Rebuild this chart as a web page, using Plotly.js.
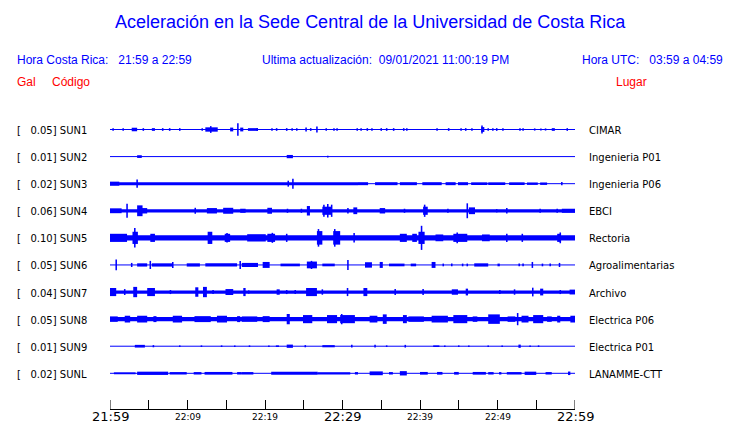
<!DOCTYPE html>
<html><head><meta charset="utf-8">
<script src="https://cdn.plot.ly/plotly-3.0.1.min.js"></script>
<style>html,body{margin:0;padding:0;background:#fff}#chart{width:740px;height:423px}</style>
</head><body><div id="chart"></div>
<script>
// ---------- DATA ----------
const stations = ["SUN1","SUN2","SUN3","SUN4","SUN5","SUN6","SUN7","SUN8","SUN9","SUNL"];
const places = ["CIMAR","Ingenieria P01","Ingenieria P06","EBCI","Rectoria","Agroalimentarias","Archivo","Electrica P06","Electrica P01","LANAMME-CTT"];
const galScale = ["0.05","0.01","0.02","0.06","0.10","0.05","0.04","0.05","0.01","0.02"];
const tickMinutes = [0,5,10,15,20,25,30,35,40,45,50,55,60];
const labelMinutes = [0,10,20,30,40,50,60];
const labelTexts = ["21:59","22:09","22:19","22:29","22:39","22:49","22:59"];
// bursts per station: [start minute, end minute, relative half-amplitude]
const evSUN1 = [[0.4,0.4,0.1],[1.7,1.7,0.1],[2.8,3.5,0.13],[4.3,4.3,0.1],[5.4,5.8,0.1],[6.8,6.8,0.1],[7.7,7.7,0.1],[9.0,9.0,0.1],[11.9,11.9,0.1],[12.3,13.9,0.16],[13.0,13.0,0.25],[15.5,15.9,0.14],[16.5,16.5,0.47],[16.8,17.2,0.14],[17.8,19.1,0.1],[19.0,19.0,0.1],[20.9,20.9,0.1],[21.5,21.5,0.1],[22.8,22.8,0.1],[23.5,23.5,0.1],[24.1,24.1,0.1],[25.3,25.3,0.15],[25.9,25.9,0.1],[26.7,26.7,0.22],[27.9,27.9,0.1],[28.9,28.9,0.1],[29.3,29.3,0.1],[31.9,31.9,0.1],[32.4,32.4,0.1],[33.2,33.2,0.1],[33.8,33.8,0.1],[35.0,35.0,0.1],[35.7,35.7,0.1],[36.6,36.6,0.1],[37.9,37.9,0.1],[38.3,38.3,0.1],[42.2,42.2,0.1],[43.7,43.7,0.1],[45.3,45.3,0.1],[45.9,45.9,0.1],[46.7,46.7,0.1],[47.9,48.3,0.18],[48.0,48.0,0.3],[48.8,48.8,0.1],[49.4,49.4,0.1],[49.9,49.9,0.1],[50.7,50.7,0.1],[52.9,52.9,0.1],[53.3,53.3,0.1],[54.8,54.8,0.08],[55.6,55.6,0.08],[56.2,56.2,0.08],[57.0,57.4,0.1],[59.0,59.0,0.1]];
const evSUN2 = [[3.5,4.1,0.1],[22.8,23.6,0.12],[28.1,28.1,0.07]];
const evSUN3 = [[0,32.0,0.11],[0,1.2,0.15],[3.5,3.5,0.3],[23.0,23.0,0.22],[23.6,23.6,0.37],[32.0,33.3,0.11],[34.2,37.1,0.11],[37.4,39.6,0.11],[40.3,42.8,0.11],[43.3,44.6,0.11],[44.9,46.2,0.11],[46.6,48.7,0.1],[48.8,51.0,0.1],[51.5,53.5,0.1],[53.8,55.2,0.09],[55.5,56.4,0.09],[58.3,58.3,0.12]];
const evSUN4 = [[0,60,0.12],[0,1.5,0.18],[2.2,2.2,0.52],[3.5,4.2,0.4],[4.1,4.8,0.2],[11.0,11.0,0.22],[12.5,13.8,0.2],[14.6,15.9,0.22],[16.8,17.5,0.15],[20.3,20.9,0.22],[22.9,22.9,0.15],[24.7,24.7,0.15],[25.4,25.8,0.35],[27.4,28.6,0.3],[27.6,27.6,0.45],[28.1,28.1,0.5],[28.6,28.6,0.45],[30.7,30.7,0.2],[31.4,31.9,0.25],[34.8,35.5,0.2],[38.0,38.0,0.15],[40.4,41.0,0.3],[40.6,40.6,0.45],[43.6,43.6,0.15],[46.1,46.1,0.55],[46.3,47.1,0.25],[49.9,49.9,0.12],[51.2,51.2,0.2],[55.5,55.5,0.15],[57.7,57.7,0.15],[58.3,60,0.15]];
const evSUN5 = [[0,60,0.2],[0,2.2,0.3],[3.2,3.2,0.72],[2.9,3.6,0.45],[5.2,5.8,0.3],[12.6,13.2,0.45],[14.8,15.5,0.3],[15.1,15.1,0.35],[17.7,20.1,0.27],[20.3,21.3,0.3],[20.9,21.0,0.37],[22.8,22.8,0.3],[26.7,27.4,0.5],[26.9,26.9,0.65],[28.8,29.7,0.5],[29.0,29.0,0.65],[31.4,31.6,0.35],[37.4,38.3,0.3],[39.0,39.6,0.3],[40.1,40.3,0.89],[39.8,40.6,0.45],[42.0,43.0,0.25],[44.3,46.1,0.3],[44.8,44.8,0.4],[48.0,49.0,0.25],[51.2,51.2,0.3],[53.2,53.2,0.3],[57.7,58.2,0.3],[58.1,58.1,0.4]];
const evSUN6 = [[0.8,0.8,0.4],[2.8,2.8,0.15],[3.5,4.8,0.12],[5.2,5.2,0.3],[5.4,8.0,0.12],[8.1,8.1,0.22],[9.9,11.6,0.12],[12.3,16.4,0.12],[16.8,16.8,0.3],[17.0,19.1,0.15],[19.7,20.6,0.22],[22.0,24.5,0.1],[25.4,26.7,0.25],[26.0,26.0,0.3],[27.4,29.0,0.1],[30.7,30.7,0.37],[32.9,33.8,0.2],[34.8,35.2,0.22],[36.0,38.0,0.1],[38.8,39.5,0.1],[41.5,42.0,0.22],[43.0,43.0,0.1],[44.1,44.1,0.1],[45.5,45.5,0.1],[46.1,46.1,0.1],[47.0,48.8,0.12],[50.0,50.3,0.1],[52.7,52.9,0.1],[53.3,53.3,0.1],[54.5,54.5,0.22],[55.8,55.8,0.1],[56.8,56.8,0.1],[57.9,58.1,0.15]];
const evSUN7 = [[0,60,0.12],[0,0.8,0.3],[1.9,1.9,0.22],[3.0,3.5,0.38],[4.8,5.8,0.3],[7.8,7.8,0.15],[11.0,11.4,0.35],[12.0,12.5,0.38],[13.3,13.3,0.15],[14.9,15.9,0.22],[17.2,17.5,0.3],[17.9,17.9,0.12],[21.5,21.9,0.2],[22.8,22.8,0.15],[23.9,23.9,0.15],[25.3,26.7,0.3],[27.4,27.4,0.2],[30.6,30.7,0.3],[32.7,33.2,0.3],[36.8,36.8,0.22],[40.4,40.4,0.22],[44.1,44.9,0.2],[45.9,46.2,0.25],[50.3,50.3,0.15],[52.2,52.2,0.2],[54.5,54.6,0.32],[55.5,55.9,0.25],[58.1,58.1,0.15],[59.3,60,0.18]];
const evSUN8 = [[0,60,0.16],[0,1.0,0.2],[1.9,2.6,0.25],[3.5,4.8,0.25],[5.6,6.0,0.22],[8.1,9.3,0.25],[10.9,13.0,0.22],[13.8,15.1,0.25],[16.4,16.8,0.22],[17.0,19.0,0.2],[19.7,20.6,0.22],[22.8,23.2,0.38],[24.9,26.1,0.3],[28.0,29.3,0.3],[29.7,31.6,0.3],[29.9,29.9,0.38],[33.5,34.5,0.25],[35.2,35.7,0.35],[37.8,38.3,0.3],[38.5,40.5,0.2],[41.5,43.6,0.25],[44.3,46.1,0.3],[46.8,47.4,0.2],[48.8,50.3,0.35],[51.3,52.3,0.2],[52.6,52.6,0.45],[53.1,54.0,0.25],[54.6,55.9,0.3],[56.4,57.0,0.2],[57.7,58.1,0.25],[59.4,60,0.25]];
const evSUN9 = [[3.2,4.5,0.1],[5.6,5.6,0.08],[9.0,9.0,0.06],[11.8,11.8,0.06],[14.4,14.4,0.06],[16.1,16.1,0.06],[18.0,18.0,0.06],[20.5,20.5,0.06],[21.4,21.8,0.06],[22.8,23.6,0.12],[25.2,25.2,0.08],[27.4,29.0,0.08],[31.2,31.2,0.1],[34.2,34.2,0.1],[35.7,35.7,0.06],[38.1,38.1,0.1],[41.7,42.5,0.06],[43.2,43.2,0.06],[45.0,45.0,0.06],[46.3,46.3,0.06],[48.8,48.8,0.06],[50.6,50.6,0.06],[52.7,53.0,0.12],[54.2,54.2,0.06],[55.3,55.3,0.06]];
const evSUNL = [[0.5,3.3,0.07],[3.5,7.5,0.12],[7.7,9.9,0.09],[10.8,11.8,0.09],[12.2,15.8,0.1],[16.4,17.0,0.09],[17.0,18.5,0.09],[20.8,26.8,0.11],[26.8,31.0,0.08],[31.6,32.0,0.09],[33.5,35.2,0.14],[36.0,36.5,0.09],[37.4,38.3,0.16],[40.0,41.0,0.1],[42.2,42.9,0.1],[44.4,45.0,0.1],[46.8,48.5,0.1],[48.8,49.5,0.09],[50.2,50.5,0.09],[51.2,53.1,0.09],[53.5,55.0,0.12],[56.2,57.0,0.09],[59.1,59.4,0.13]];
const events = [evSUN1,evSUN2,evSUN3,evSUN4,evSUN5,evSUN6,evSUN7,evSUN8,evSUN9,evSUNL];

// ---------- LAYOUT HELPERS ----------
const W=740,H=423,L=110,R=575,T=110,B=409;
const px = x => (x-L)/(R-L);
const py = y => (B-y)/(B-T);
const AMP = 0.5;       // relative amplitude 1 -> half a row spacing
const MINW = 0.2;      // minimum bar width in minutes
const BLUE = '#0000ff', RED = '#ff0000';

const traces = [];
stations.forEach((s,i)=>{
  const row = stations.length - i;
  traces.push({type:'scatter',mode:'lines',x:[0,60],y:[row,row],line:{color:BLUE,width:1},hoverinfo:'skip'});
  const ev = events[i];
  traces.push({type:'bar',
    x: ev.map(e=>(e[0]+e[1])/2),
    width: ev.map(e=>Math.max(e[1]-e[0],MINW)),
    y: ev.map(e=>2*e[2]*AMP),
    base: ev.map(e=>row-e[2]*AMP),
    marker:{color:BLUE,line:{width:0}}, hoverinfo:'skip'});
});

const ann = [];
const A = (o)=>ann.push(Object.assign({showarrow:false,xref:'paper',yref:'paper'},o));
A({x:px(370),y:py(22),text:'Aceleración en la Sede Central de la Universidad de Costa Rica',xanchor:'center',yanchor:'middle',font:{family:'Liberation Sans, Arial',size:18,color:BLUE}});
const hf = {family:'Liberation Sans, Arial',size:12,color:BLUE};
A({x:px(15),y:py(60),text:'Hora Costa Rica:\u00a0\u00a0\u00a021:59 a 22:59',xanchor:'left',yanchor:'middle',font:hf});
A({x:px(260),y:py(60),text:'Ultima actualización:\u00a0\u00a009/01/2021 11:00:19 PM',xanchor:'left',yanchor:'middle',font:hf});
A({x:px(725),y:py(60),text:'Hora UTC:\u00a0\u00a0\u00a003:59 a 04:59',xanchor:'right',yanchor:'middle',font:hf});
const rf = {family:'Liberation Sans, Arial',size:12,color:RED};
A({x:px(15),y:py(82),text:'Gal',xanchor:'left',yanchor:'middle',font:rf});
A({x:px(50),y:py(82),text:'Código',xanchor:'left',yanchor:'middle',font:rf});
A({x:px(649),y:py(82),text:'Lugar',xanchor:'right',yanchor:'middle',font:rf});
const lf = {family:'DejaVu Sans',size:10,color:'#000'};
stations.forEach((s,i)=>{
  const row = stations.length - i;
  A({x:px(15),yref:'y',y:row,yshift:-1,text:'[\u00a0\u00a0\u00a0'+galScale[i]+'] '+s,xanchor:'left',yanchor:'middle',font:lf});
  A({x:px(587),yref:'y',y:row,yshift:-1,text:places[i],xanchor:'left',yanchor:'middle',font:lf});
});
labelMinutes.forEach((m,i)=>{
  const big = (i%3===0);
  A({xref:'x',x:m,y:py(416.5),text:labelTexts[i],xanchor:'center',yanchor:'middle',font:{family:'DejaVu Sans',size:big?13:9,color:'#000'}});
});

// end ticks (Plotly hides ticks that sit on the plot edges)
const shapes = [tickMinutes[0], tickMinutes[tickMinutes.length-1]].map(m=>({
  type:'line',xref:'x',yref:'paper',x0:m,x1:m,y0:0,y1:9/(B-T),line:{color:'#000',width:1}
}));

// rows: row 1 at pixel 373.3, row 10 at 129.5
const ppu = (373.3-129.5)/9;
const layout = {
  width:W,height:H,margin:{l:L,r:W-R,t:T,b:H-B,pad:0},
  paper_bgcolor:'#fff',plot_bgcolor:'#fff',showlegend:false,barmode:'overlay',
  xaxis:{range:[0,60],tickmode:'array',tickvals:tickMinutes,ticks:'inside',ticklen:9,tickwidth:1,tickcolor:'#000',
         showticklabels:false,showline:true,linecolor:'#000',linewidth:1,showgrid:false,zeroline:false,fixedrange:true},
  yaxis:{range:[1-(B-373.3)/ppu, 10+(129.5-T)/ppu],visible:false,showgrid:false,zeroline:false,fixedrange:true},
  shapes:shapes,
  annotations:ann
};
Plotly.newPlot('chart',traces,layout,{staticPlot:true,displayModeBar:false});
</script></body></html>
